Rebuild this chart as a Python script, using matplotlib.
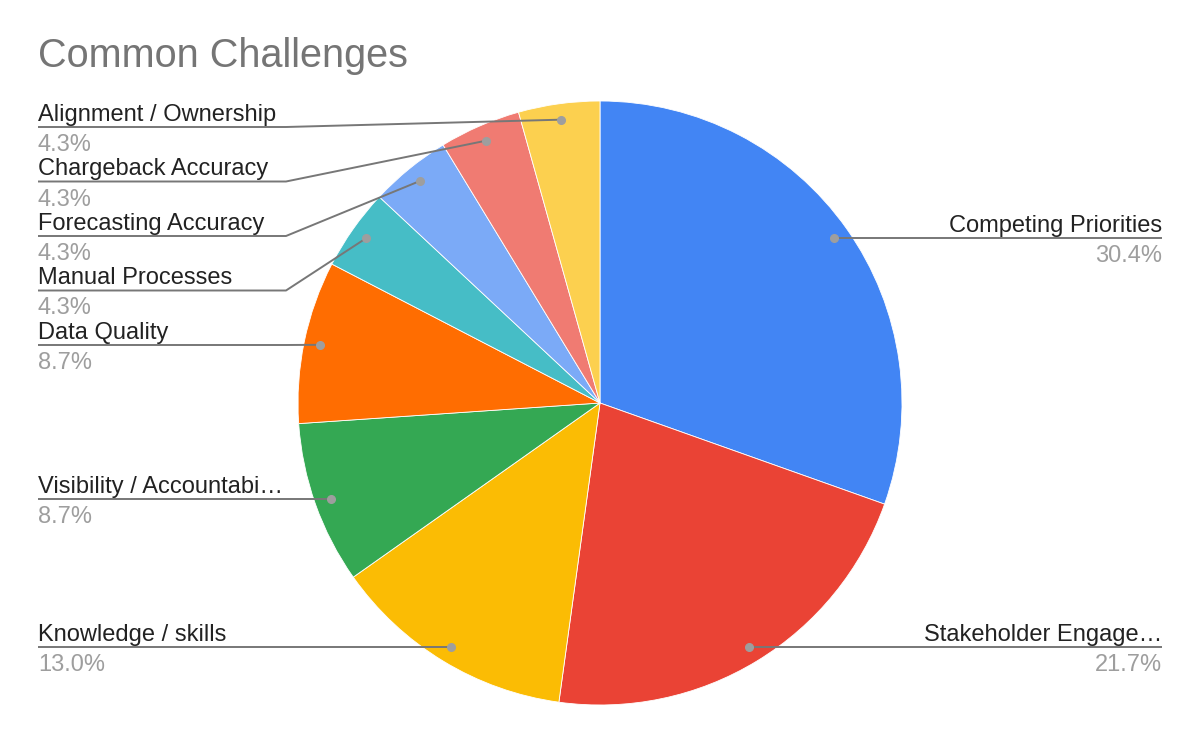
#!/usr/bin/env python3
"""Common Challenges pie chart (Google Charts style), headless."""
import matplotlib

matplotlib.use("Agg")
import matplotlib.pyplot as plt  # noqa: E402
import numpy as np  # noqa: E402

# ------------------ data ------------------
categories = [
    "Competing Priorities",
    "Stakeholder Engage\u2026",
    "Knowledge / skills",
    "Visibility / Accountabi\u2026",
    "Data Quality",
    "Manual Processes",
    "Forecasting Accuracy",
    "Chargeback Accuracy",
    "Alignment / Ownership",
]
counts = [7, 5, 3, 2, 2, 1, 1, 1, 1]
colors = [
    "#4285F4", "#EA4335", "#FBBC04", "#34A853", "#FF6D01",
    "#46BDC6", "#7BAAF7", "#F07B72", "#FCD04F",
]
title = "Common Challenges"

# ------------------ layout (pixels) ------------------
W, H = 1200, 742
CX, CY, R = 600, 403, 302
DOT_R = 286
LEFT_X, RIGHT_X, KINK_X = 38, 1162, 286
LEFT_TOP, GAP = 127, 54.5

plt.rcParams["font.family"] = ["Liberation Sans", "DejaVu Sans"]

fig = plt.figure(figsize=(W / 100, H / 100), dpi=100)
ax = fig.add_axes([0, 0, 1, 1])


def fy(y):
    # pixel row -> data y
    return H - y


ax.pie(counts, colors=colors, startangle=90, counterclock=False,
       center=(CX, fy(CY)), radius=R,
       wedgeprops=dict(edgecolor="white", linewidth=0.6))
ax.set_xlim(0, W)
ax.set_ylim(0, H)
ax.set_aspect("equal")
ax.axis("off")

total = float(sum(counts))
cum = np.cumsum([0] + counts[:-1])
mids = (cum + np.array(counts) / 2.0) / total * 2 * np.pi  # clockwise from top
dot_x = CX + DOT_R * np.sin(mids)
dot_y = CY - DOT_R * np.cos(mids)  # pixel rows

# left labels stacked top-down, right labels level with their dot
label_y = list(dot_y)
left = [i for i in range(len(counts)) if dot_x[i] < CX]
left.sort(key=lambda i: dot_y[i])
prev = LEFT_TOP - GAP
for i in left:
    label_y[i] = max(dot_y[i], prev + GAP)
    prev = label_y[i]

line_c, dot_c = "#777777", "#9e9e9e"
for i, name in enumerate(categories):
    ly = label_y[i]
    pct = f"{counts[i] / total * 100:.1f}%"
    if dot_x[i] < CX:
        xs = [LEFT_X, KINK_X, dot_x[i]]
        ys = [ly, ly, dot_y[i]]
        tx, ha = LEFT_X, "left"
    else:
        xs = [RIGHT_X, dot_x[i]]
        ys = [ly, dot_y[i]]
        tx, ha = RIGHT_X, "right"
    ax.plot(xs, [fy(v) for v in ys], color=line_c, lw=1.4, zorder=3,
            solid_capstyle="butt")
    ax.plot(dot_x[i], fy(dot_y[i]), "o", color=dot_c, ms=5.5, zorder=4)
    ax.text(tx, fy(ly - 6), name, ha=ha, va="baseline", fontsize=17,
            color="#222222")
    ax.text(tx, fy(ly + 24), pct, ha=ha, va="baseline", fontsize=17,
            color="#9e9e9e")

ax.text(LEFT_X, fy(67), title, ha="left", va="baseline", fontsize=28.5,
        color="#757575")

fig.savefig("out.png", dpi=100)
plt.close(fig)
